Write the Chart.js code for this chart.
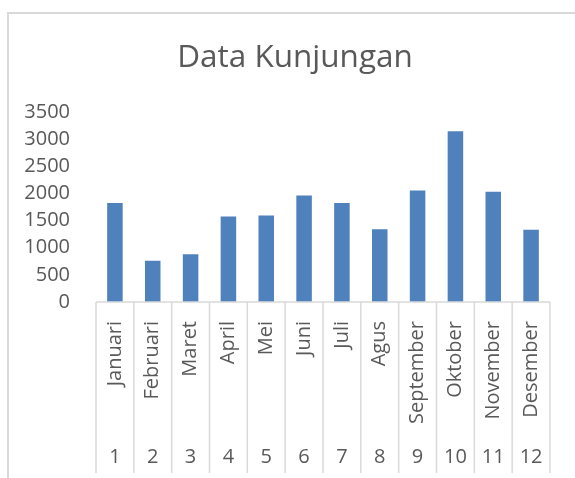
<!doctype html>
<html>
<head>
<meta charset="UTF-8">
<script src="https://cdn.jsdelivr.net/npm/chart.js"></script>
<style>
  body { margin: 0; background: #fff; }
  #wrap { position: relative; width: 575px; height: 478px; overflow: hidden; }
  #frame { position: absolute; left: 7px; top: 12px; width: 620px; height: 520px; border: 2px solid #d9d9d9; box-sizing: border-box; }
  canvas { position: absolute; left: 0; top: 0; }
</style>
</head>
<body>
<div id="wrap">
  <div id="frame"></div>
  <!-- canvas runs 15px past the window so the title centres like the Excel frame -->
  <canvas id="chart" width="590" height="478"></canvas>
</div>
<script>
  const months = ['Januari', 'Februari', 'Maret', 'April', 'Mei', 'Juni', 'Juli', 'Agus', 'September', 'Oktober', 'November', 'Desember'];
  const nums = ['1', '2', '3', '4', '5', '6', '7', '8', '9', '10', '11', '12'];
  const visits = [1820, 760, 880, 1575, 1590, 1960, 1820, 1340, 2050, 3140, 2030, 1330];

  Chart.defaults.font.family = "'Open Sans', sans-serif";
  Chart.defaults.color = '#595959';

  // axis line and category separators, Excel style
  const separators = {
    id: 'separators',
    afterDraw(chart) {
      const ctx = chart.ctx;
      const x = chart.scales.x;
      const x2 = chart.scales.x2;
      const half = (x.right - x.left) / months.length / 2;
      ctx.save();
      ctx.strokeStyle = '#d9d9d9';
      ctx.lineWidth = 1.5;
      ctx.beginPath();
      ctx.moveTo(x.left, x.top);
      ctx.lineTo(x.right, x.top);
      for (let i = 0; i <= months.length; i++) {
        const px = i < months.length ? x.getPixelForValue(i) - half : x.getPixelForValue(i - 1) + half;
        ctx.moveTo(px, x.top);
        ctx.lineTo(px, x2.bottom);
      }
      ctx.stroke();
      ctx.restore();
    }
  };

  new Chart(document.getElementById('chart'), {
    type: 'bar',
    data: {
      labels: months,
      datasets: [{
        data: visits,
        backgroundColor: '#4f81bd',
        barPercentage: 0.41,
        categoryPercentage: 1
      }]
    },
    options: {
      responsive: false,
      animation: false,
      layout: { padding: { left: 0, right: 0, top: 0, bottom: 5 } },
      plugins: {
        legend: { display: false },
        tooltip: { enabled: false },
        title: {
          display: true,
          text: 'Data Kunjungan',
          font: { size: 31.5, weight: 'normal' },
          color: '#595959',
          padding: { top: 39, bottom: 35 }
        }
      },
      scales: {
        y: {
          min: 0,
          max: 3500,
          ticks: { stepSize: 500, padding: 18, font: { size: 20 }, callback: v => String(v) },
          grid: { display: false },
          border: { display: false },
          afterFit(s) { s.width = 96; }
        },
        yRight: {
          axis: 'y',
          position: 'right',
          ticks: { display: false },
          grid: { display: false },
          border: { display: false },
          afterFit(s) { s.width = 40; }
        },
        x: {
          ticks: { autoSkip: false, maxRotation: 90, minRotation: 90, padding: 11, font: { size: 20 } },
          grid: { display: false },
          border: { display: false },
          afterFit(s) { s.height = 125; }
        },
        x2: {
          axis: 'x',
          type: 'category',
          position: 'bottom',
          labels: nums,
          offset: true,
          ticks: { autoSkip: false, maxRotation: 0, padding: 10, font: { size: 20 } },
          grid: { display: false },
          border: { display: false },
          afterFit(s) { s.height = 46; }
        }
      }
    },
    plugins: [separators]
  });
</script>
</body>
</html>
